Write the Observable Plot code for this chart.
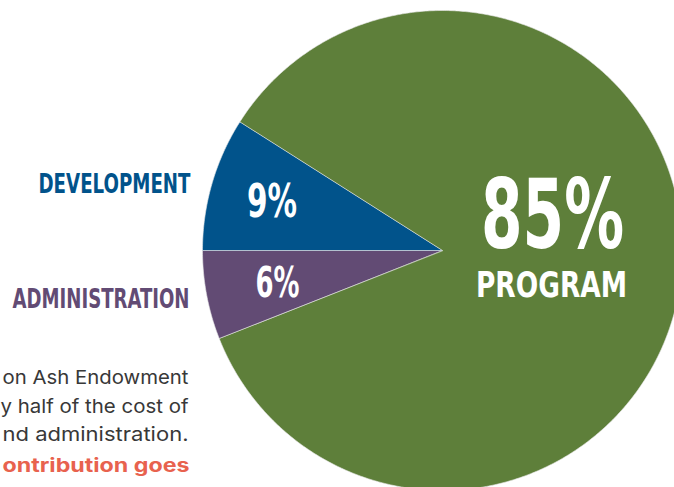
<!DOCTYPE html>
<html><head><meta charset="utf-8">
<script src="https://cdn.jsdelivr.net/npm/d3@7"></script>
<script src="https://cdn.jsdelivr.net/npm/@observablehq/plot@0.6"></script>
<style>
html,body{margin:0;padding:0;background:#fff;overflow:hidden;}
#chart svg{display:block;}
</style>
</head><body><div id="chart"></div>
<script>
// ---- data ----
const categories = ["ADMINISTRATION", "DEVELOPMENT", "PROGRAM"];
const shares = [6, 9, 85];
const sliceLabels = ["6%", "9%", "85%"];
const colors = ["#624B74", "#01538B", "#5E7F3A"];
const sideLabels = ["DEVELOPMENT", "ADMINISTRATION"];
const bodyLines = ["on Ash Endowment", "y half of the cost of", "nd administration.", "ontribution goes"];
const bodyHighlight = [false, false, false, true];

// ---- layout ----
const W = 674, H = 487;
const cx = 442, cy = 250, R = 240;
const total = d3.sum(shares);
const start = 1.5 * Math.PI - 2 * Math.PI * shares[0] / total;
const table = categories.map((name, i) => ({name, share: shares[i], label: sliceLabels[i]}));
const arcs = d3.pie().sort(null).value(d => d.share).startAngle(start).endAngle(start + 2 * Math.PI)(table);

const pts = [];
for (const a of arcs) {
  pts.push({name: a.data.name, x: cx, y: cy});
  const n = Math.max(2, Math.ceil((a.endAngle - a.startAngle) / (Math.PI / 360)));
  for (let i = 0; i <= n; i++) {
    const t = a.startAngle + (a.endAngle - a.startAngle) * i / n;
    pts.push({name: a.data.name, x: cx + R * Math.sin(t), y: cy - R * Math.cos(t)});
  }
}

// slice labels: small slices along centroid, big slice placed right
const labelRad = {ADMINISTRATION: 0.70, DEVELOPMENT: 0.74};
const smallLabels = arcs.filter(a => a.data.name !== "PROGRAM").map(a => {
  const m = (a.startAngle + a.endAngle) / 2, r = R * labelRad[a.data.name];
  return {label: a.data.label, name: a.data.name, x: cx + r * Math.sin(m), y: cy - r * Math.cos(m)};
});
const bigArc = arcs.find(a => a.data.name === "PROGRAM");

const condensed = "'Liberation Sans Narrow', 'DejaVu Sans Condensed', 'DejaVu Sans', sans-serif";
const body = "Inter, 'Open Sans', sans-serif";

const chart = Plot.plot({
  width: W, height: H, margin: 0,
  style: {background: "#fff", overflow: "hidden"},
  x: {domain: [0, W], range: [0, W], axis: null},
  y: {domain: [0, H], range: [0, H], axis: null},
  color: {domain: categories, range: colors},
  marks: [
    Plot.line(pts, {x: "x", y: "y", z: "name", fill: "name", stroke: "#e8e8e8", strokeWidth: 0.6, curve: "linear-closed", clip: true}),
    // slice percentages
    Plot.text(smallLabels.filter(d => d.name === "DEVELOPMENT"), {x: "x", y: "y", text: "label", fill: "white", fontSize: 46, fontWeight: "bold", fontFamily: condensed, dy: 1}),
    Plot.text(smallLabels.filter(d => d.name === "ADMINISTRATION"), {x: "x", y: "y", text: "label", fill: "white", fontSize: 42, fontWeight: "bold", fontFamily: condensed, dy: 2}),
    Plot.text([bigArc.data], {x: () => 552, y: () => 216, text: "label", fill: "white", fontSize: 97, fontWeight: "bold", fontFamily: condensed}),
    Plot.text([bigArc.data], {x: () => 551, y: () => 284.5, text: "name", fill: "white", fontSize: 36, fontWeight: "bold", fontFamily: condensed}),
    // side labels
    Plot.text([sideLabels[0]], {x: () => 190, y: () => 183.7, text: d => d, fill: () => sideLabels[0], textAnchor: "end", fontSize: 26, fontWeight: "bold", fontFamily: condensed}),
    Plot.text([sideLabels[1]], {x: () => 189, y: () => 298.7, text: d => d, fill: () => sideLabels[1], textAnchor: "end", fontSize: 26, fontWeight: "bold", fontFamily: condensed}),
    // body paragraph (clipped at left)
    Plot.text(bodyLines.map((t, i) => ({t, i})).filter(d => !bodyHighlight[d.i]), {x: () => 188, y: d => [377, 406, 434, 465][d.i], text: "t", fill: "#383838", textAnchor: "end", fontSize: 19, fontFamily: body}),
    Plot.text(bodyLines.map((t, i) => ({t, i})).filter(d => bodyHighlight[d.i]), {x: () => 189, y: d => [377, 406, 434, 465][d.i], text: "t", fill: "#E8624E", textAnchor: "end", fontSize: 19, fontWeight: 700, fontFamily: body})
  ]
});

document.getElementById("chart").appendChild(chart);

// fit condensed / clipped text widths to the reference
const widths = {"DEVELOPMENT": 152, "ADMINISTRATION": 177, "9%": 50, "6%": 44, "85%": 143, "PROGRAM": 151,
  "on Ash Endowment": 186, "y half of the cost of": 188, "nd administration.": 186, "ontribution goes": 187};
d3.select(chart).selectAll("text").each(function() {
  const t = this.textContent;
  if (widths[t]) {
    this.setAttribute("textLength", widths[t]);
    this.setAttribute("lengthAdjust", "spacingAndGlyphs");
  }
});
</script>
</body></html>
